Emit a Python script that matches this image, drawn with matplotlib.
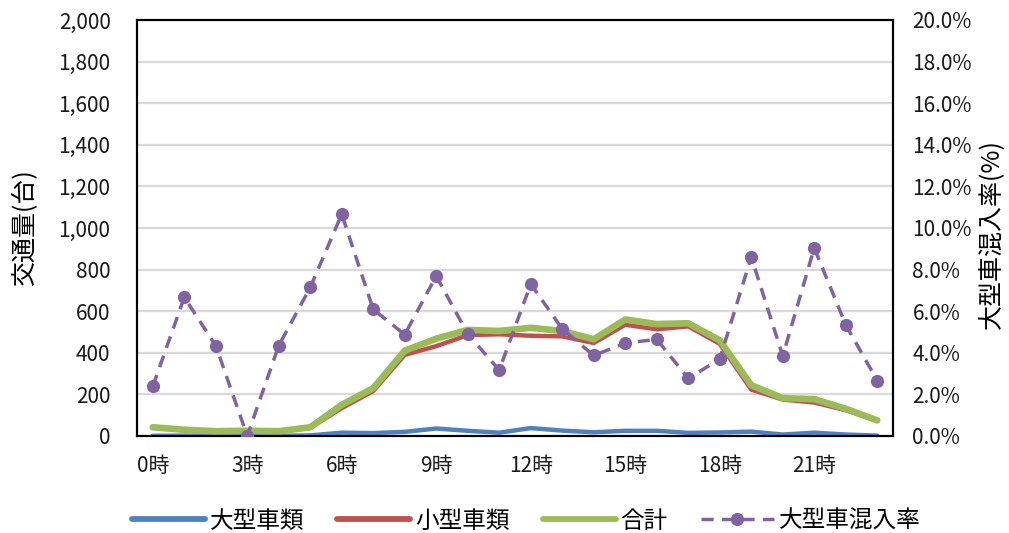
import matplotlib
matplotlib.use("Agg")
import matplotlib.pyplot as plt
from matplotlib.ticker import FuncFormatter, MultipleLocator
import numpy as np

plt.rcParams['font.family'] = ['Noto Sans CJK JP', 'DejaVu Sans']

# Hourly traffic counts (vehicles per hour)
hours = list(range(24))
hour_labels = [f"{h}時" if h % 3 == 0 else "" for h in hours]
large_vehicles = [1, 2, 1, 0, 1, 3, 16, 14, 20, 36, 25, 16,
                  38, 26, 18, 25, 25, 15, 17, 21, 7, 16, 7, 2]
small_vehicles = [41, 28, 22, 25, 22, 39, 134, 216, 390, 432, 485, 489,
                  482, 479, 447, 535, 513, 527, 443, 223, 175, 161, 124, 73]

series_names = ["大型車類", "小型車類", "合計", "大型車混入率"]
colors = ["#4F81BD", "#C0504D", "#9BBB59", "#8064A2"]

large = np.array(large_vehicles, dtype=float)
small = np.array(small_vehicles, dtype=float)
total = large + small
mix_rate = large / total

W, H = 1009, 533
fig = plt.figure(figsize=(W / 100, H / 100), dpi=100)
ax = fig.add_axes([137 / W, 1 - 436 / H, (893 - 137) / W, (436 - 20) / H])
ax2 = ax.twinx()

x = np.array(hours)
l1, = ax.plot(x, large, color=colors[0], lw=3.2, solid_capstyle='round', zorder=3)
l2, = ax.plot(x, small, color=colors[1], lw=3.2, solid_capstyle='round', zorder=4)
l3, = ax.plot(x, total, color=colors[2], lw=4.8, solid_capstyle='round', zorder=5)
l4, = ax2.plot(x, mix_rate, color=colors[3], lw=2.5, dashes=(3.5, 2.4),
               marker='o', markersize=9.5, markeredgewidth=0, zorder=6)

ax.set_xlim(-0.5, 23.5)
ax.set_ylim(0, 2000)
ax2.set_ylim(0, 0.2)
ax.yaxis.set_major_locator(MultipleLocator(200))
ax2.yaxis.set_major_locator(MultipleLocator(0.02))
ax.yaxis.set_major_formatter(FuncFormatter(lambda v, p: f"{int(v):,}"))
ax2.yaxis.set_major_formatter(FuncFormatter(lambda v, p: f"{v * 100:.1f}%"))

ax.set_xticks(hours)
ax.set_xticklabels(hour_labels)

ax.grid(axis='y', color='#D9D9D9', lw=1.6, zorder=0)
ax.set_axisbelow(True)

tick_color = '#1a1a1a'
ax.tick_params(axis='y', length=0, pad=19, labelsize=15, labelcolor=tick_color)
ax.tick_params(axis='x', length=0, pad=14, labelsize=15, labelcolor=tick_color)
ax2.tick_params(axis='y', length=0, pad=14, labelsize=15, labelcolor=tick_color)

for a in (ax, ax2):
    for s in a.spines.values():
        s.set_color('black')
        s.set_linewidth(1.5)

# Axis titles
fig.text(25 / W, 1 - 228 / H, "交通量(台)", fontsize=18, rotation=90,
         ha='center', va='center')
fig.text(991 / W, 1 - 234 / H, "大型車混入率(%)", fontsize=18, rotation=90,
         ha='center', va='center')

leg = fig.legend([l1, l2, l3, l4], series_names, loc='center',
                 bbox_to_anchor=(526 / W, 1 - 521 / H), ncol=4, frameon=False,
                 fontsize=17, handlelength=3.1, handletextpad=0.2, columnspacing=1.4)
for h in leg.legend_handles[:3]:
    h.set_linewidth(4.2)

fig.savefig("out.png", dpi=100)
